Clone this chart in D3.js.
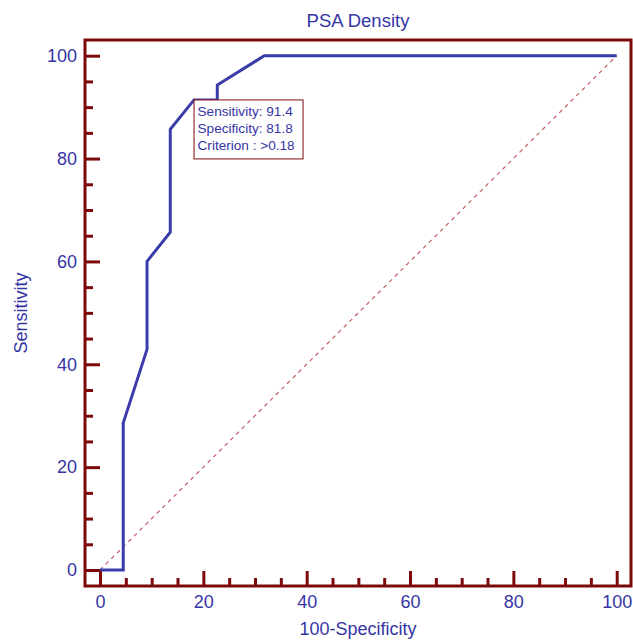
<!DOCTYPE html>
<html>
<head>
<meta charset="utf-8">
<script src="https://cdn.jsdelivr.net/npm/d3@7"></script>
<style>
  body { margin: 0; background: #fff; }
  svg { display: block; font-family: "Liberation Sans", Arial, sans-serif; }
</style>
</head>
<body>
<div id="chart"></div>
<script>
// ROC curve points (100-Specificity, Sensitivity)
const fpr = [0, 4.5, 4.5, 9.1, 9.1, 13.6, 13.6, 18.2, 22.7, 22.7, 31.8, 100];
const tpr = [0, 0, 28.6, 42.9, 60.0, 65.7, 85.7, 91.4, 91.4, 94.3, 100, 100];

const majorTicks = [0, 20, 40, 60, 80, 100];
const minorTicks = [5, 10, 15, 25, 30, 35, 45, 50, 55, 65, 70, 75, 85, 90, 95];

// optimal criterion shown in the box
const best = { fpr: 18.2, tpr: 91.4 };
const boxLines = ["Sensitivity: 91.4", "Specificity: 81.8", "Criterion : >0.18"];

const title = "PSA Density";
const xTitle = "100-Specificity";
const yTitle = "Sensitivity";

const width = 633, height = 642;
const frame = { left: 85, right: 631, top: 40, bottom: 586 };
const axisColor = "#7d0a0a";
const textColor = "#3535a5";
const lineColor = "#3a3caa";

const x = d3.scaleLinear().domain([0, 100]).range([100, 616.7]);
const y = d3.scaleLinear().domain([0, 100]).range([570, 55.7]);

const svg = d3.select("#chart").append("svg")
  .attr("width", width)
  .attr("height", height);

// diagonal reference line
svg.append("line")
  .attr("x1", x(0)).attr("y1", y(0))
  .attr("x2", x(100)).attr("y2", y(100))
  .attr("stroke", "#c0606a")
  .attr("stroke-width", 1.2)
  .attr("stroke-dasharray", "4,4");

// ROC curve
const pts = fpr.map((d, i) => [d, tpr[i]]);
svg.append("path")
  .datum(pts)
  .attr("fill", "none")
  .attr("stroke", lineColor)
  .attr("stroke-width", 3)
  .attr("d", d3.line().x(d => x(d[0])).y(d => y(d[1])));

// axes
function styleAxis(g) {
  g.select(".domain").remove();
  g.selectAll(".tick line").attr("stroke", axisColor).attr("stroke-width", 3);
  g.selectAll(".tick text").attr("fill", textColor).style("font-size", "18px");
}

svg.append("g")
  .attr("transform", `translate(0,${frame.bottom})`)
  .call(d3.axisBottom(x).tickValues(minorTicks).tickSize(-8).tickFormat(""))
  .call(styleAxis);
svg.append("g")
  .attr("transform", `translate(0,${frame.bottom})`)
  .call(d3.axisBottom(x).tickValues(majorTicks).tickSize(-15).tickPadding(9).tickFormat(d3.format("d")))
  .call(styleAxis);

svg.append("g")
  .attr("transform", `translate(${frame.left},0)`)
  .call(d3.axisLeft(y).tickValues(minorTicks).tickSize(-8).tickFormat(""))
  .call(styleAxis);
svg.append("g")
  .attr("transform", `translate(${frame.left},0)`)
  .call(d3.axisLeft(y).tickValues(majorTicks).tickSize(-15).tickPadding(8).tickFormat(d3.format("d")))
  .call(styleAxis);

// frame
svg.append("path")
  .attr("d", `M${frame.left},${frame.top}H${frame.right}V${frame.bottom}H${frame.left}Z`)
  .attr("fill", "none")
  .attr("stroke", axisColor)
  .attr("stroke-width", 3);

// annotation box
const box = svg.append("g")
  .attr("transform", `translate(${x(best.fpr)},${y(best.tpr)})`);
box.append("rect")
  .attr("width", 109).attr("height", 59)
  .attr("fill", "#fff")
  .attr("stroke", axisColor)
  .attr("stroke-width", 1);
box.selectAll("text")
  .data(boxLines)
  .join("text")
  .attr("x", 3.5)
  .attr("y", (d, i) => 16.5 + i * 16.7)
  .attr("fill", textColor)
  .style("font-size", "13.6px")
  .text(d => d);

// titles
const cx = (frame.left + frame.right) / 2;
svg.append("text")
  .attr("x", cx).attr("y", 26.5)
  .attr("text-anchor", "middle")
  .attr("fill", textColor)
  .style("font-size", "18.5px")
  .text(title);

svg.append("text")
  .attr("x", cx).attr("y", 635)
  .attr("text-anchor", "middle")
  .attr("fill", textColor)
  .style("font-size", "18px")
  .text(xTitle);

svg.append("text")
  .attr("transform", `translate(27,${(frame.top + frame.bottom) / 2}) rotate(-90)`)
  .attr("text-anchor", "middle")
  .attr("fill", textColor)
  .style("font-size", "18px")
  .text(yTitle);
</script>
</body>
</html>
